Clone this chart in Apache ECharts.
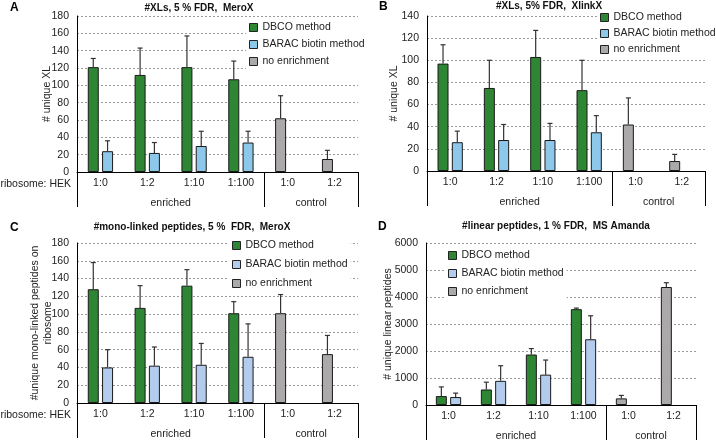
<!DOCTYPE html>
<html>
<head>
<meta charset="utf-8">
<script src="https://cdn.jsdelivr.net/npm/echarts@6.0.0/dist/echarts.min.js"></script>
<style>
  html, body { margin: 0; padding: 0; background: #fff; }
  #main { width: 716px; height: 442px; }
</style>
</head>
<body>
<div id="main"></div>
<script>
// categories and groups (shared by all 4 panels)
var categories = ['1:0', '1:2', '1:10', '1:100', '1:0', '1:2'];
var groupNames = ['enriched', 'control'];
var groupSizes = [4, 2];
var seriesNames = ['DBCO method', 'BARAC biotin method', 'no enrichment'];

// A: #XLs, 5 % FDR, MeroX
var dbcoA = [121, 112, 121, 107, null, null];
var dbcoErrA = [10, 31, 36, 21, null, null];
var baracA = [24, 22, 30, 34, null, null];
var baracErrA = [12, 12, 17, 13, null, null];
var noEnrA = [null, null, null, null, 62, 15];
var noEnrErrA = [null, null, null, null, 26, 10];

// B: #XLs, 5% FDR, XlinkX
var dbcoB = [97, 75, 103, 73, null, null];
var dbcoErrB = [17, 25, 24, 27, null, null];
var baracB = [26, 28, 28, 35, null, null];
var baracErrB = [10, 14, 15, 15, null, null];
var noEnrB = [null, null, null, null, 42, 9];
var noEnrErrB = [null, null, null, null, 24, 6];

// C: #mono-linked peptides, 5 % FDR, MeroX
var dbcoC = [128, 107, 132, 101, null, null];
var dbcoErrC = [30, 25, 18, 13, null, null];
var baracC = [40, 42, 43, 52, null, null];
var baracErrC = [20, 21, 24, 37, null, null];
var noEnrC = [null, null, null, null, 101, 55];
var noEnrErrC = [null, null, null, null, 21, 21];

// D: #linear peptides, 1 % FDR, MS Amanda
var dbcoD = [330, 575, 1870, 3550, null, null];
var dbcoErrD = [340, 270, 220, 40, null, null];
var baracD = [295, 895, 1125, 2435, null, null];
var baracErrD = [145, 560, 540, 870, null, null];
var noEnrD = [null, null, null, null, 245, 4370];
var noEnrErrD = [null, null, null, null, 110, 160];

var FONT = '"Liberation Sans", Arial, sans-serif';
var GREEN = '#2e8533';
var GRAY = '#aba9a9';
var BAR_W = 11;
var BAR_GAP = 0.3;

var panels = [
  { letter: 'A', title: '#XLs, 5 % FDR,  MeroX', titleX: 199, titleY: 8, letterX: 10, letterY: 8,
    grid: { left: 77, top: 16, width: 281, height: 156 }, max: 180, step: 20,
    yName: '# unique XL', nameGap: 23, blue: '#8dc8ea', ribosome: true,
    legend: { left: 246, top: 20, gap: 6 },
    values: [dbcoA, baracA, noEnrA], errors: [dbcoErrA, baracErrA, noEnrErrA] },
  { letter: 'B', title: '#XLs, 5% FDR,  XlinkX', titleX: 549, titleY: 6, letterX: 379, letterY: 7,
    grid: { left: 427, top: 16, width: 278, height: 155 }, max: 140, step: 20,
    yName: '# unique XL', nameGap: 26, blue: '#8dc8ea', ribosome: false,
    legend: { left: 597, top: 10, gap: 5 },
    values: [dbcoB, baracB, noEnrB], errors: [dbcoErrB, baracErrB, noEnrErrB] },
  { letter: 'C', title: '#mono-linked peptides, 5 %  FDR,  MeroX', titleX: 192, titleY: 227, letterX: 10, letterY: 228,
    grid: { left: 77, top: 243, width: 281, height: 160 }, max: 180, step: 20,
    yName: '#unique mono-linked peptides on\nribosome', nameGap: 22, blue: '#b3cced', ribosome: true,
    legend: { left: 229, top: 238, gap: 8 },
    values: [dbcoC, baracC, noEnrC], errors: [dbcoErrC, baracErrC, noEnrErrC] },
  { letter: 'D', title: '#linear peptides, 1 % FDR,  MS Amanda', titleX: 556, titleY: 226, letterX: 378, letterY: 227,
    grid: { left: 426, top: 243, width: 270, height: 162 }, max: 6000, step: 1000,
    yName: '# unique linear peptides', nameGap: 31, blue: '#b3cced', ribosome: false,
    legend: { left: 445, top: 248, gap: 7 },
    values: [dbcoD, baracD, noEnrD], errors: [dbcoErrD, baracErrD, noEnrErrD] }
];

// group centres and group borders on the 0..N value scale under the categories
var groupCenters = [];
var groupBorders = [0];
var acc = 0;
groupSizes.forEach(function (n) {
  groupCenters.push(acc + n / 2);
  acc += n;
  groupBorders.push(acc);
});

function groupLabel(v) {
  for (var i = 0; i < groupCenters.length; i++) {
    if (Math.abs(v - groupCenters[i]) < 1e-6) return groupNames[i];
  }
  return '';
}

function errorRenderer(offset) {
  return function (params, api) {
    var top = api.coord([api.value(0), api.value(1)]);
    var base = api.coord([api.value(0), api.value(2)]);
    var x = top[0] + offset;
    var st = { stroke: '#333', lineWidth: 1.2 };
    return {
      type: 'group',
      children: [
        { type: 'line', shape: { x1: x, y1: base[1], x2: x, y2: top[1] }, style: st },
        { type: 'line', shape: { x1: x - 2.5, y1: top[1], x2: x + 2.5, y2: top[1] }, style: st }
      ]
    };
  };
}

var option = {
  animation: false,
  textStyle: { fontFamily: FONT },
  grid: [], xAxis: [], yAxis: [], series: [], legend: [], graphic: []
};

panels.forEach(function (p, k) {
  var colors = [GREEN, p.blue, GRAY];
  var stacks = ['g', 'b', 'g'];

  option.grid.push(p.grid);

  option.xAxis.push({
    type: 'category', gridIndex: k, data: categories,
    axisLine: { lineStyle: { color: '#000', width: 1 } },
    axisTick: { show: false },
    axisLabel: { interval: 0, color: '#222', fontSize: 10.5, margin: 6 }
  });
  // second bottom axis: group names and the vertical group separators
  option.xAxis.push({
    type: 'value', gridIndex: k, position: 'bottom', min: 0, max: categories.length,
    axisLine: { show: false, onZero: false },
    axisTick: { show: true, customValues: groupBorders, length: 35, lineStyle: { color: '#000', width: 1 } },
    splitLine: { show: false },
    axisLabel: { customValues: groupCenters, margin: 26, color: '#222', fontSize: 10.5, formatter: groupLabel }
  });

  option.yAxis.push({
    type: 'value', gridIndex: k, min: 0, max: p.max, interval: p.step,
    name: p.yName, nameLocation: 'middle', nameGap: p.nameGap, nameMoveOverlap: false,
    nameTextStyle: { color: '#222', fontSize: 10.5, lineHeight: 13 },
    axisLine: { show: true, onZero: false, lineStyle: { color: '#000', width: 1 } },
    axisTick: { show: false },
    axisLabel: { color: '#222', fontSize: 10.5, margin: 8, formatter: function (v) { return String(v); } },
    splitLine: { lineStyle: { color: '#9a9a9a', width: 1, type: [2, 2] } }
  });

  for (var s = 0; s < 3; s++) {
    option.series.push({
      type: 'bar', name: seriesNames[s], xAxisIndex: 2 * k, yAxisIndex: k,
      stack: 'p' + k + stacks[s], data: p.values[s],
      barWidth: BAR_W, barGap: (BAR_GAP * 100) + '%',
      itemStyle: { color: colors[s], borderColor: '#1a1a1a', borderWidth: 1 }
    });
  }

  for (var s2 = 0; s2 < 3; s2++) {
    var vals = p.values[s2], errs = p.errors[s2], pts = [];
    for (var i = 0; i < vals.length; i++) {
      if (vals[i] != null) pts.push([i, vals[i] + errs[i], vals[i]]);
    }
    var off = BAR_W * (1 + BAR_GAP) / 2 * (s2 === 1 ? 1 : -1);
    option.series.push({
      type: 'custom', xAxisIndex: 2 * k, yAxisIndex: k, z: 5,
      encode: { x: 0, y: [1, 2] }, data: pts, renderItem: errorRenderer(off)
    });
  }

  option.legend.push({
    orient: 'vertical', left: p.legend.left, top: p.legend.top, itemGap: p.legend.gap,
    itemWidth: 8, itemHeight: 8, icon: 'rect', backgroundColor: '#fff', padding: [2, 3],
    selectedMode: false,
    textStyle: { color: '#222', fontSize: 10.5 },
    itemStyle: { borderColor: '#222', borderWidth: 1 },
    data: seriesNames.map(function (n, s) { return { name: n, itemStyle: { color: colors[s] } }; })
  });

  option.graphic.push({
    type: 'text', x: p.titleX, y: p.titleY,
    style: { text: p.title, fill: '#111', font: 'bold 10px ' + FONT, textAlign: 'center', textVerticalAlign: 'middle' }
  });
  option.graphic.push({
    type: 'text', x: p.letterX, y: p.letterY,
    style: { text: p.letter, fill: '#000', font: 'bold 12px ' + FONT, textAlign: 'left', textVerticalAlign: 'middle' }
  });
  if (p.ribosome) {
    option.graphic.push({
      type: 'text', x: p.grid.left - 6, y: p.grid.top + p.grid.height + 12,
      style: { text: 'ribosome: HEK', fill: '#222', font: '10.5px ' + FONT, textAlign: 'right', textVerticalAlign: 'middle' }
    });
  }
});

var myChart = echarts.init(document.getElementById('main'));
myChart.setOption(option);
window.addEventListener('resize', function () {
  myChart.resize();
});
</script>
</body>
</html>
